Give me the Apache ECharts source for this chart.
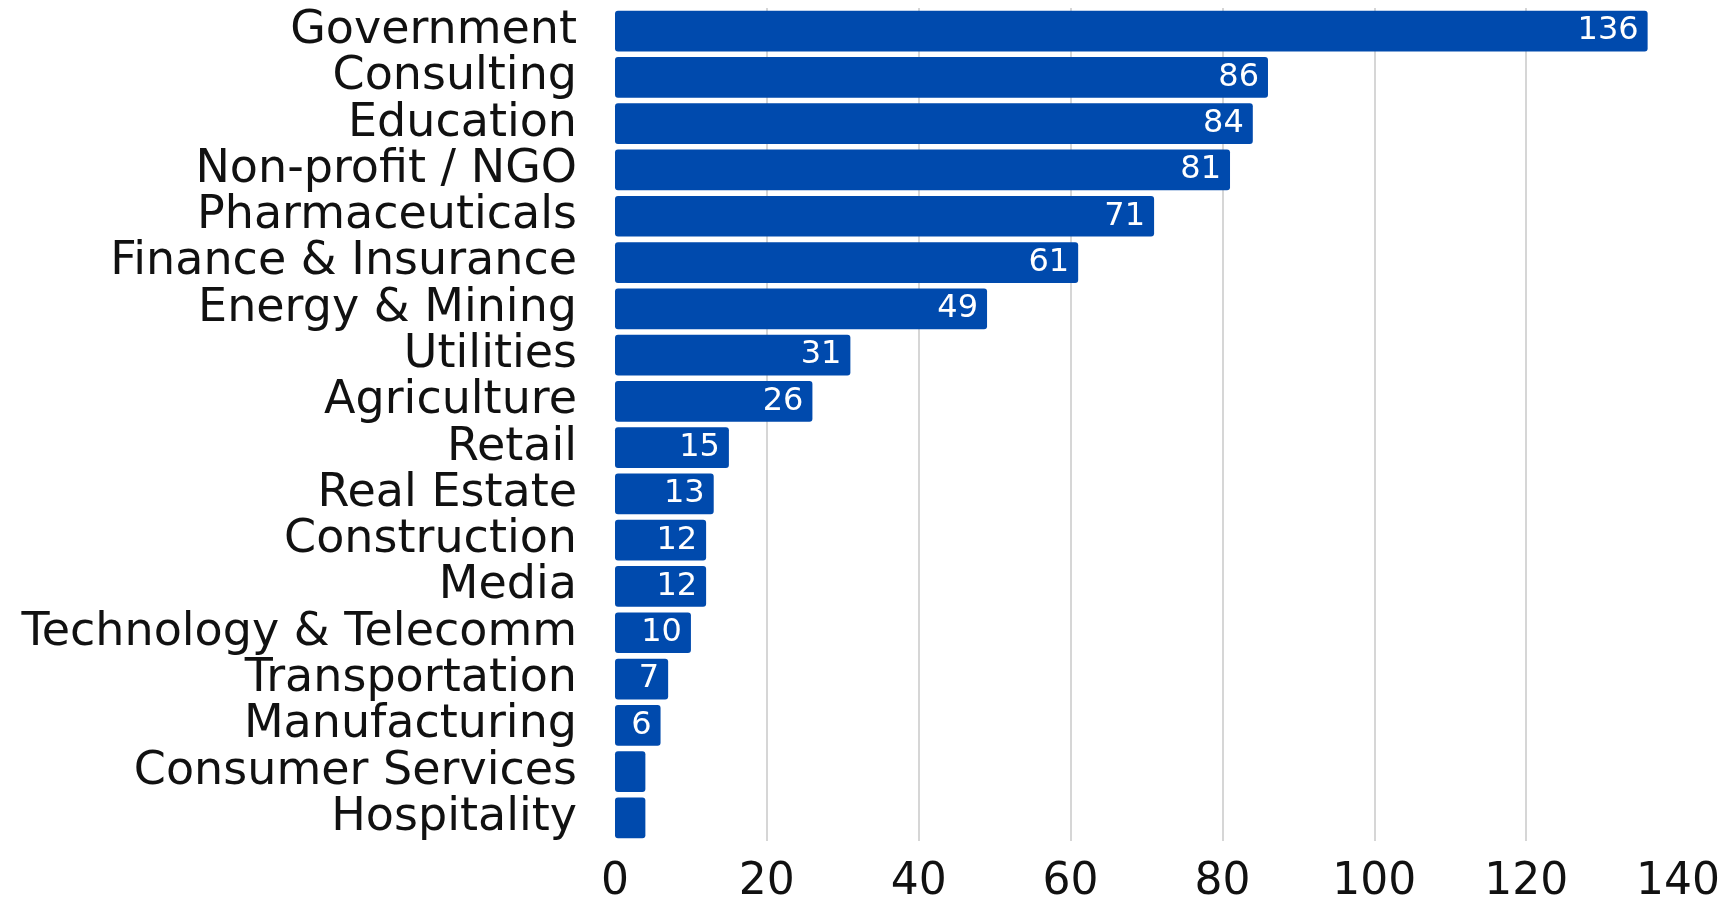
<!DOCTYPE html>
<html>
<head>
<meta charset="utf-8">
<script src="https://cdn.jsdelivr.net/npm/echarts@6/dist/echarts.min.js"></script>
<style>
  html, body { margin: 0; padding: 0; background: #fff; }
  #bar { width: 1733px; height: 900px; }
</style>
</head>
<body>
<div id="bar"></div>
<script>
// industries, top to bottom
let industries = ['Government', 'Consulting', 'Education', 'Non-profit / NGO', 'Pharmaceuticals',
    'Finance & Insurance', 'Energy & Mining', 'Utilities', 'Agriculture', 'Retail', 'Real Estate',
    'Construction', 'Media', 'Technology & Telecomm', 'Transportation', 'Manufacturing',
    'Consumer Services', 'Hospitality']
let counts = [136, 86, 84, 81, 71, 61, 49, 31, 26, 15, 13, 12, 12, 10, 7, 6, 4, 4]
let xTicks = [0, 20, 40, 60, 80, 100, 120, 140]

let chart = echarts.init(document.querySelector('#bar'))
let font = 'DejaVu Sans'

// small bars have no room for the number
let barData = counts.map(function (v) {
    return { value: v, label: { show: v >= 5 } }
})

let option = {
    backgroundColor: '#ffffff',
    animation: false,
    grid: {
        left: 615,
        right: 55,
        top: 8,
        bottom: 59,
        outerBoundsMode: 'none'
    },
    xAxis: {
        type: 'value',
        min: xTicks[0],
        max: xTicks[xTicks.length - 1],
        interval: 20,
        axisLine: { show: false },
        axisTick: { show: false },
        axisLabel: {
            fontFamily: font,
            fontSize: 44,
            color: '#111',
            margin: 20
        },
        splitLine: {
            show: true,
            showMinLine: false,
            showMaxLine: false,
            lineStyle: { color: '#d6d6d6', width: 2 }
        }
    },
    yAxis: {
        type: 'category',
        data: industries,
        inverse: true,
        axisLine: { show: false },
        axisTick: { show: false },
        axisLabel: {
            interval: 0,
            fontFamily: font,
            fontSize: 46,
            color: '#111',
            margin: 38,
            padding: [4, 0, 0, 0]
        }
    },
    series: [{
        type: 'bar',
        data: barData,
        barCategoryGap: '12%',
        itemStyle: {
            color: '#004aad',
            borderRadius: 3
        },
        label: {
            position: 'insideRight',
            color: '#fff',
            fontFamily: font,
            fontSize: 32,
            distance: 9
        }
    }]
}
chart.setOption(option)
window.onresize = function () {
    chart.resize()
}
</script>
</body>
</html>
